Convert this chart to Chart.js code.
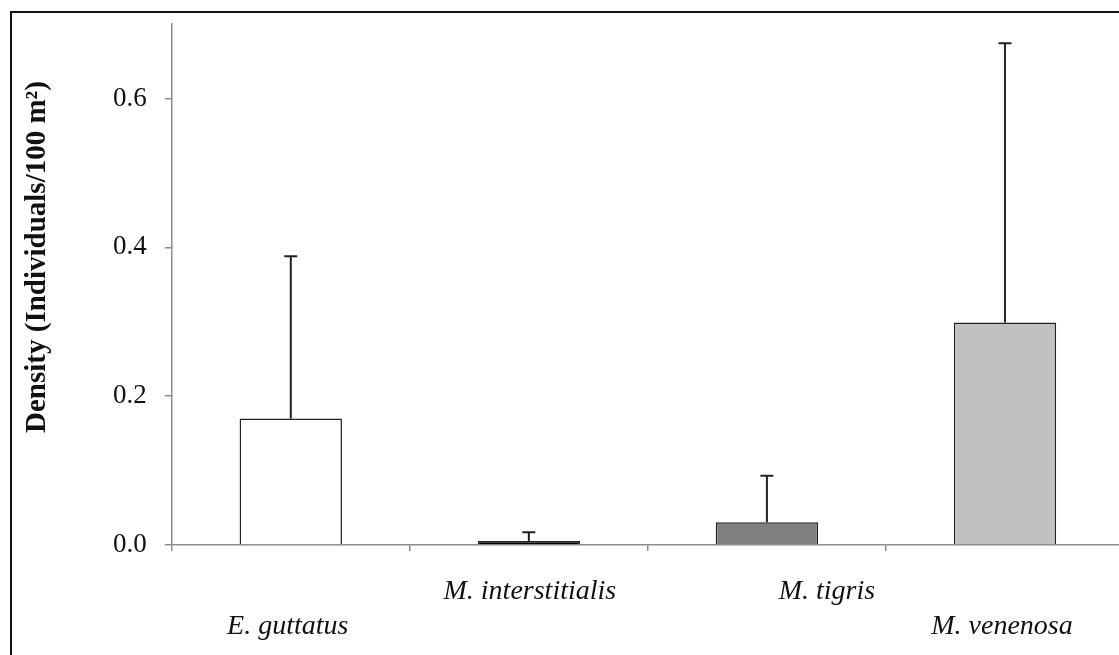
<!DOCTYPE html>
<html>
<head>
<meta charset="utf-8">
<script src="https://cdn.jsdelivr.net/npm/chart.js@4"></script>
<style>
  html, body { margin: 0; padding: 0; background: #fff; overflow: hidden; }
  #wrap { position: relative; width: 1135px; height: 655px; }
  #frame { position: absolute; left: 10px; top: 11px; width: 1200px; height: 700px; border: 2px solid #111; }
  #chart { position: absolute; left: 0; top: 0; }
</style>
</head>
<body>
<div id="wrap">
  <div id="frame"></div>
  <canvas id="chart" width="1135" height="655"></canvas>
</div>
<script>
// species and mean density (individuals / 100 m2) with SD
var species = ['E. guttatus', 'M. interstitialis', 'M. tigris', 'M. venenosa'];
var density = [0.170, 0.0055, 0.0305, 0.299];
var sd = [0.218, 0.0115, 0.0625, 0.375];
var fills = ['#ffffff', '#000000', '#7f7f7f', '#c0c0c0'];
var yTicks = [0, 0.2, 0.4, 0.6];
var yTitle = 'Density (Individuals/100 m\u00b2)';

var serif = "'Liberation Serif', 'Times New Roman', serif";

// error bars (upper only) + staggered italic labels + rotated y title
var extras = {
  id: 'extras',
  afterDatasetsDraw: function(chart) {
    var ctx = chart.ctx;
    var meta = chart.getDatasetMeta(0);
    var y = chart.scales.y;
    ctx.save();
    ctx.strokeStyle = '#222';
    ctx.lineWidth = 2;
    meta.data.forEach(function(bar, i) {
      var top = y.getPixelForValue(density[i] + sd[i]);
      var base = y.getPixelForValue(density[i]);
      ctx.beginPath();
      ctx.moveTo(bar.x, base);
      ctx.lineTo(bar.x, top);
      ctx.moveTo(bar.x - 6.5, top);
      ctx.lineTo(bar.x + 6.5, top);
      ctx.stroke();
    });
    ctx.restore();
  },
  afterDraw: function(chart) {
    var ctx = chart.ctx;
    var x = chart.scales.x;
    var area = chart.chartArea;
    ctx.save();
    ctx.fillStyle = '#111';
    ctx.font = 'italic 28px ' + serif;
    ctx.textAlign = 'center';
    ctx.textBaseline = 'alphabetic';
    var shift = [-3, 1, 60, -3];
    species.forEach(function(s, i) {
      var lower = (i === 0 || i === 3);
      var by = area.bottom + (lower ? 89 : 54);
      ctx.fillText(s, x.getPixelForValue(i) + shift[i], by);
    });
    ctx.font = 'bold 29px ' + serif;
    ctx.translate(38, 257);
    ctx.rotate(-Math.PI / 2);
    ctx.textBaseline = 'middle';
    ctx.fillText(yTitle, 0, 0);
    ctx.restore();
  }
};

new Chart(document.getElementById('chart'), {
  type: 'bar',
  data: {
    labels: species,
    datasets: [{
      data: density,
      backgroundColor: fills,
      borderColor: '#222',
      borderWidth: 1.5,
      categoryPercentage: 1,
      barPercentage: 0.43
    }]
  },
  options: {
    responsive: false,
    animation: false,
    layout: { padding: { left: 95, right: 11, top: 24, bottom: 104 } },
    plugins: { legend: { display: false }, tooltip: { enabled: false } },
    scales: {
      x: {
        grid: { display: true, drawOnChartArea: false, drawTicks: true, tickLength: 6, color: '#8c8c8c', lineWidth: 1.5, offset: true },
        border: { color: '#8c8c8c', width: 1.5 },
        ticks: { display: false }
      },
      y: {
        min: 0,
        max: 0.7,
        afterBuildTicks: function(scale) {
          scale.ticks = yTicks.map(function(v) { return { value: v }; });
        },
        afterFit: function(scale) {
          scale.paddingTop = 0;
          scale.paddingBottom = 0;
        },
        grid: { drawOnChartArea: false, drawTicks: true, tickLength: 7, color: '#8c8c8c', lineWidth: 1.5 },
        border: { color: '#8c8c8c', width: 1.5 },
        ticks: {
          color: '#111',
          padding: 18,
          font: { family: serif, size: 27 },
          callback: function(v) { return v.toFixed(1); }
        }
      }
    }
  },
  plugins: [extras]
});
</script>
</body>
</html>
